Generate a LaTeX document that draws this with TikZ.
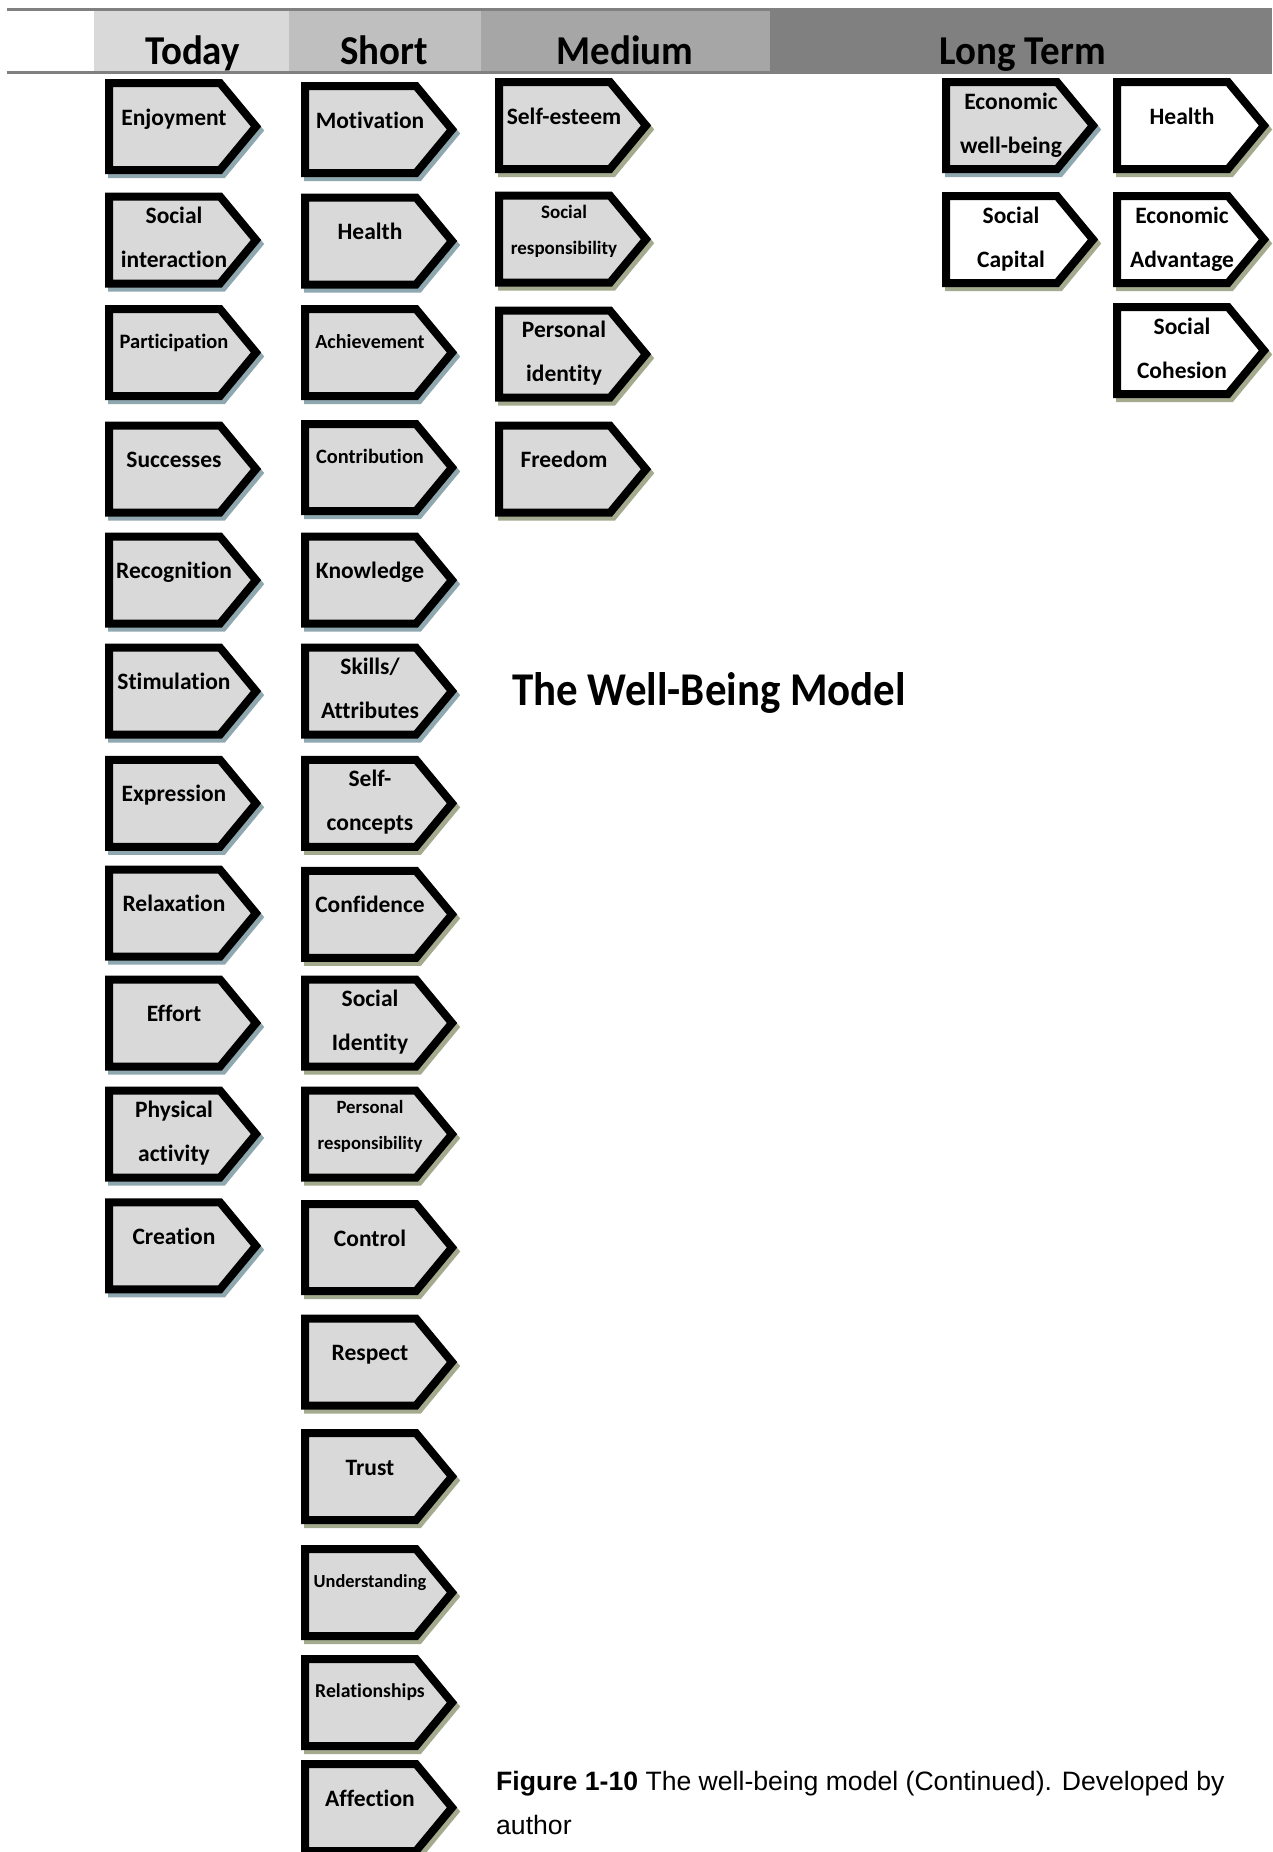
\documentclass[tikz,border=0pt]{standalone}
\usepackage{fontspec}
\setmainfont{Carlito}[Ligatures=NoCommon]
\newfontfamily\capfont{Liberation Sans}
\definecolor{boxgrey}{RGB}{217,217,217}
\definecolor{shblue}{RGB}{143,168,176}
\definecolor{sholive}{RGB}{163,170,142}
\definecolor{hdToday}{RGB}{217,217,217}
\definecolor{hdShort}{RGB}{191,191,191}
\definecolor{hdMedium}{RGB}{166,166,166}
\definecolor{hdLong}{RGB}{128,128,128}
\definecolor{hdline}{RGB}{128,128,128}
\tikzset{
  kindA/.style={fill=boxgrey}, shA/.style={draw=shblue},
  kindB/.style={fill=boxgrey}, shB/.style={draw=sholive},
  kindC/.style={fill=white},   shC/.style={draw=sholive},
  boxline/.style={line width=8pt, line join=miter, draw=black},
  shadowline/.style={line width=8pt, line join=miter},
  lbl/.style={inner sep=0pt, anchor=base},
  hdr/.style={inner sep=0pt, anchor=base, font=\fontsize{41}{41}\selectfont\bfseries},
  hline/.style={draw=hdline, line width=3pt},
}
\newcommand\onebox[7]{%
  \begin{scope}[shift={(#2,#3)}]
    \draw[shadowline, sh#4, shift={(3,4)}] (4,4) -- (115,4) -- (151,47.5) -- (115,91) -- (4,91) -- cycle;
    \draw[boxline, kind#4] (4,4) -- (115,4) -- (151,47.5) -- (115,91) -- (4,91) -- cycle;
    \node[lbl, font=\fontsize{#5}{#5}\selectfont\bfseries] (#1) at (69,#6) {#7};
  \end{scope}}
\newcommand\twobox[9]{%
  \begin{scope}[shift={(#2,#3)}]
    \draw[shadowline, sh#4, shift={(3,4)}] (4,4) -- (115,4) -- (151,47.5) -- (115,91) -- (4,91) -- cycle;
    \draw[boxline, kind#4] (4,4) -- (115,4) -- (151,47.5) -- (115,91) -- (4,91) -- cycle;
    \node[lbl, font=\fontsize{#5}{#5}\selectfont\bfseries] (#1) at (69,#6) {#8};
    \node[lbl, font=\fontsize{#5}{#5}\selectfont\bfseries] (#1-2) at (69,#7) {#9};
  \end{scope}}
\begin{document}
\begin{tikzpicture}[x=1pt, y=-1pt]
\useasboundingbox (0,0) rectangle (1272,1852);
% header
\fill[hdToday] (94,11) rectangle (289,71);
\fill[hdShort] (289,11) rectangle (481,71);
\fill[hdMedium] (481,11) rectangle (770,71);
\fill[hdLong] (770,11) rectangle (1272,71);
\draw[hline] (7,9.5) -- (1272,9.5);
\draw[hline] (7,73) -- (1272,73);
\node[hdr] (hToday) at (192.5,64) {\scalebox{0.95}[1]{Today}};
\node[hdr] (hShort) at (384,64) {\scalebox{0.95}[1]{Short}};
\node[hdr] (hMedium) at (625,64) {\scalebox{0.95}[1]{Medium}};
\node[hdr] (hLong) at (1023,64) {\scalebox{0.95}[1]{Long Term}};
% Today
\onebox{enjoy}{105}{79}{A}{23.5}{46}{Enjoyment}
\twobox{socint}{105}{192.5}{A}{23.5}{31}{75}{Social}{interaction}
\onebox{partic}{105}{305}{A}{20.5}{43}{Participation}
\onebox{succ}{105}{421.5}{A}{23.5}{46}{Successes}
\onebox{recog}{105}{532.6}{A}{23.5}{46}{Recognition}
\onebox{stim}{105}{643.6}{A}{23.5}{46}{Stimulation}
\onebox{expr}{105}{755.8}{A}{23.5}{46}{Expression}
\onebox{relax}{105}{865.7}{A}{23.5}{46}{Relaxation}
\onebox{effort}{105}{975.5}{A}{23.5}{46}{Effort}
\twobox{phys}{105}{1086.5}{A}{23.5}{31}{75}{Physical}{activity}
\onebox{creat}{105}{1198.3}{A}{23.5}{46}{Creation}
% Short
\onebox{motiv}{301}{82}{A}{23.5}{46}{Motivation}
\onebox{healthS}{301}{193.5}{A}{23.5}{46}{Health}
\onebox{achiev}{301}{305}{A}{20}{43}{Achievement}
\onebox{contrib}{301}{420}{A}{20.4}{43}{Contribution}
\onebox{knowl}{301}{532.6}{A}{23.5}{46}{Knowledge}
\twobox{skills}{301}{643.6}{A}{23.5}{31}{75}{Skills/}{Attributes}
\twobox{selfc}{301}{755.8}{B}{23.5}{31}{75}{Self-}{concepts}
\onebox{confid}{301}{866.9}{B}{23.5}{46}{Confidence}
\twobox{socid}{301}{975.5}{B}{23.5}{31}{75}{Social}{Identity}
\twobox{persresp}{301}{1086.7}{B}{18.7}{27}{63}{Personal}{responsibility}
\onebox{control}{301}{1200}{B}{23.5}{46}{Control}
\onebox{respect}{301}{1314.5}{B}{23.5}{46}{Respect}
\onebox{trust}{301}{1429}{B}{23.5}{46}{Trust}
\onebox{underst}{301}{1545}{B}{18.4}{42}{Understanding}
\onebox{relat}{301}{1655}{B}{19.7}{42}{Relationships}
\onebox{affect}{301}{1760}{B}{23.5}{46}{Affection}
% Medium
\onebox{selfest}{495}{78}{B}{23.5}{46}{Self-esteem}
\twobox{socresp}{495}{191.7}{B}{19}{27}{63}{Social}{responsibility}
\twobox{persid}{495}{306.7}{B}{23.5}{31}{75}{Personal}{identity}
\onebox{freedom}{495}{421.7}{B}{23.5}{46}{Freedom}
% Long term
\twobox{econwb}{942}{78}{A}{23.5}{31}{75}{Economic}{well-being}
\twobox{soccap}{942}{192}{C}{23.5}{31}{75}{Social}{Capital}
\onebox{healthL}{1113}{78}{C}{23.5}{46}{Health}
\twobox{econadv}{1113}{192}{C}{23.5}{31}{75}{Economic}{Advantage}
\twobox{soccoh}{1113}{303}{C}{23.5}{31}{75}{Social}{Cohesion}
% title
\node[inner sep=0pt, anchor=base west, font=\fontsize{47}{47}\selectfont\bfseries] (title) at (512,705) {\scalebox{0.913}[1]{The Well-Being Model}};
% caption
\node[inner sep=0pt, anchor=base west, font=\capfont\fontsize{26.6}{26.6}\selectfont] (cap1) at (496,1790) {\textbf{Figure 1-10} The well-being model (Continued). Developed by};
\node[inner sep=0pt, anchor=base west, font=\capfont\fontsize{26.6}{26.6}\selectfont] (cap2) at (496,1834) {author};
\end{tikzpicture}
\end{document}
